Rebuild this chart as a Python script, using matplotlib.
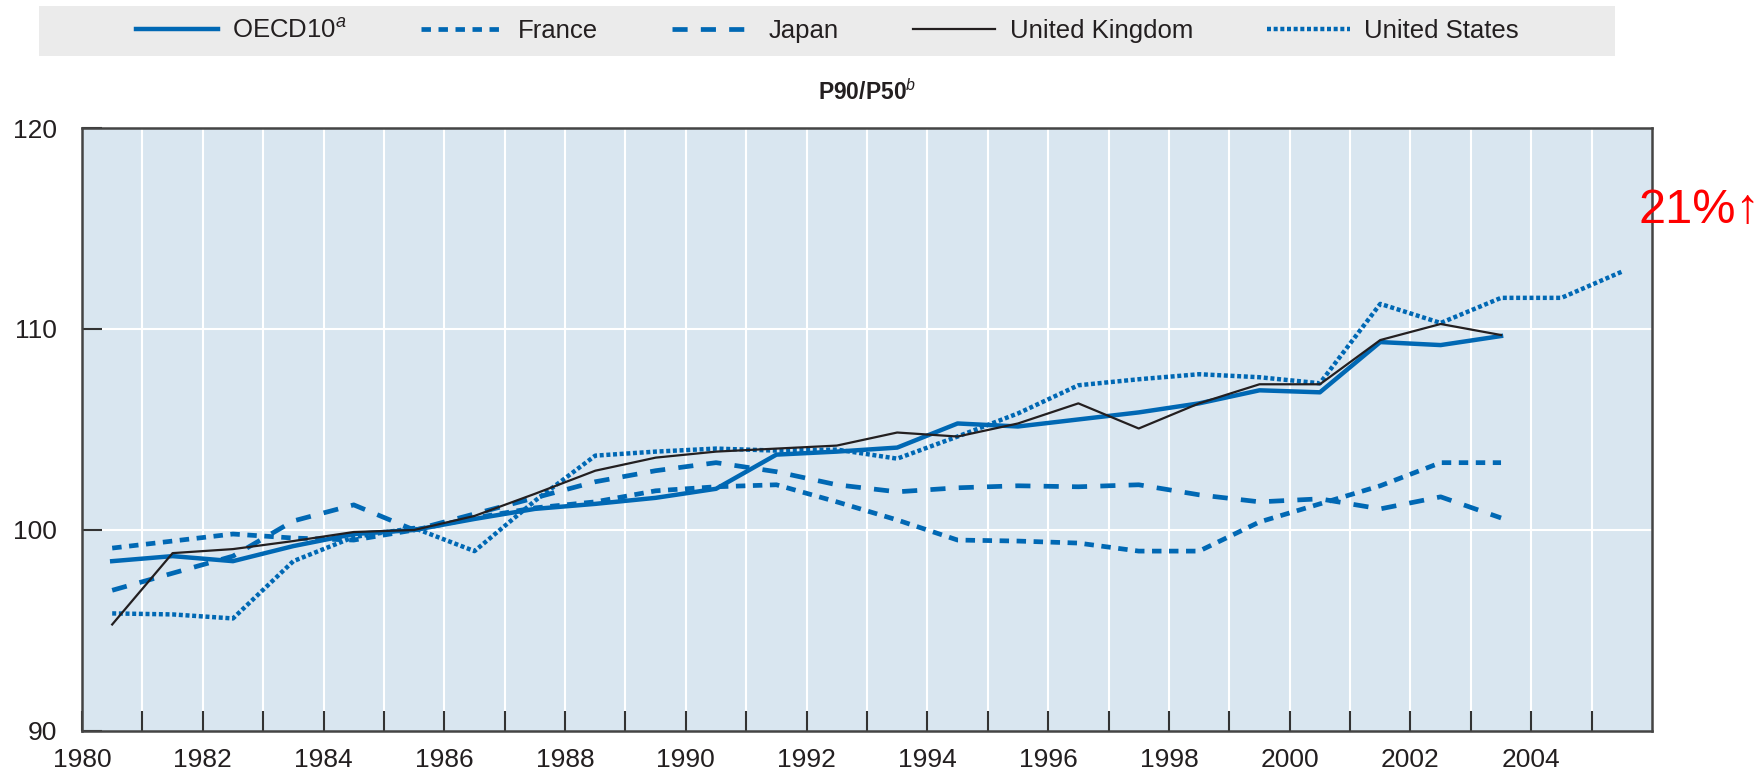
import numpy as np
import matplotlib
matplotlib.use("Agg")
import matplotlib.pyplot as plt
from matplotlib import font_manager
from matplotlib.patches import Rectangle
from matplotlib.ticker import FixedLocator

nan = np.nan

# ---------------- data ----------------
years = list(range(1980, 2006))
series_names = ["OECD10$^{a}$", "France", "Japan", "United Kingdom", "United States"]
oecd10 = [98.45, 98.7, 98.45, 99.2, 99.8, 100.0, 100.55, 101.05, 101.3, 101.6, 102.05, 103.75, 103.9,
          104.1, 105.3, 105.15, 105.5, 105.85, 106.3, 106.95, 106.85, 109.35, 109.2, 109.65, nan, nan]
france = [99.1, 99.45, 99.8, 99.6, 99.5, 100.0, 100.6, 101.1, 101.4, 101.95, 102.15, 102.25, 101.4,
          100.5, 99.5, 99.45, 99.35, 98.95, 98.95, 100.4, 101.3, 102.2, 103.35, 103.35, nan, nan]
japan = [97.0, 97.85, 98.7, 100.45, 101.25, 100.0, 100.8, 101.6, 102.4, 102.95, 103.35, 102.9, 102.25,
         101.9, 102.1, 102.2, 102.15, 102.25, 101.75, 101.4, 101.55, 101.05, 101.65, 100.6, nan, nan]
uk = [95.3, 98.85, 99.05, 99.45, 99.9, 100.0, 100.7, 101.8, 102.95, 103.6, 103.9, 104.05, 104.2,
      104.85, 104.65, 105.3, 106.3, 105.05, 106.3, 107.25, 107.25, 109.45, 110.25, 109.7, nan, nan]
us = [95.85, 95.8, 95.6, 98.45, 99.65, 100.1, 98.95, 101.45, 103.7, 103.9, 104.05, 103.95, 104.0,
      103.55, 104.65, 105.8, 107.2, 107.5, 107.75, 107.6, 107.3, 111.25, 110.3, 111.55, 111.55, 112.85]
x_labels = [str(y) for y in range(1980, 2005, 2)]
y_ticks = [90, 100, 110, 120]
title_text = "P90/P50$^{b}$"
note_text = "21%\u2191"

# ---------------- fonts ----------------
available = {f.name for f in font_manager.fontManager.ttflist}
has_narrow = "Liberation Sans Narrow" in available
base = "Liberation Sans Narrow" if has_narrow else "Liberation Sans"
k = 1.1 if has_narrow else 1.0  # narrow face can be set a bit larger
plt.rcParams["font.family"] = [base, "DejaVu Sans"]
plt.rcParams["mathtext.fontset"] = "custom"
plt.rcParams["mathtext.rm"] = base
plt.rcParams["mathtext.it"] = base + ":italic"
plt.rcParams["mathtext.bf"] = base + ":bold"

BLUE = "#0068b4"
TXT = "#231f20"
FRAME = "#444444"

W, H = 1765, 775
fig = plt.figure(figsize=(W / 100, H / 100), dpi=100)
ax = fig.add_axes([82 / W, 1 - 731 / H, (1652 - 82) / W, (731 - 128) / H])
ax.set_facecolor("#d9e6f0")

xs = np.array(years) + 0.5  # values plotted at mid-year

l_oecd, = ax.plot(xs, oecd10, color=BLUE, lw=3.2, solid_joinstyle="round", zorder=4)
l_fr, = ax.plot(xs, france, color=BLUE, lw=3.4, dashes=(2.0, 1.6), dash_capstyle="butt", zorder=3)
l_jp, = ax.plot(xs, japan, color=BLUE, lw=3.4, dashes=(3.2, 2.8), dash_capstyle="butt", zorder=3)
l_us, = ax.plot(xs, us, color=BLUE, lw=3.2, dashes=(0.9, 0.6), dash_capstyle="butt", zorder=3)
l_uk, = ax.plot(xs, uk, color=TXT, lw=1.6, zorder=5)

ax.set_xlim(1980, 2006)
ax.set_ylim(90, 120)

# gridlines
for yr in range(1981, 2006):
    ax.axvline(yr, color="white", lw=1.5, zorder=1)
for v in (100, 110):
    ax.axhline(v, color="white", lw=1.5, zorder=1)

ax.xaxis.set_major_locator(FixedLocator(list(range(1980, 2005, 2))))
ax.set_xticklabels(x_labels)
ax.xaxis.set_minor_locator(FixedLocator(list(range(1981, 2006, 2))))
ax.set_yticks(y_ticks)
ax.set_yticklabels([str(v) for v in y_ticks])

ax.tick_params(axis="x", which="both", direction="in", length=14.5, width=1.5,
               color="#333333", labelsize=19 * k, labelcolor=TXT, pad=12)
ax.tick_params(axis="y", which="both", direction="in", length=14.5, width=1.5,
               color="#333333", labelsize=19 * k, labelcolor=TXT, pad=18)
for s in ax.spines.values():
    s.set_color(FRAME)
    s.set_linewidth(1.8)
    s.set_zorder(6)

ax.set_title(title_text, fontsize=16.5 * k, fontweight="bold", color=TXT, pad=20)

ax.text(2005.77, 115.9, note_text, color="red", fontsize=35, ha="left", va="center",
        family=["Liberation Sans", "DejaVu Sans"], clip_on=False, zorder=7)

# legend band
fig.patches.append(Rectangle((39 / W, 1 - 56 / H), (1615 - 39) / W, 50 / H,
                             transform=fig.transFigure, facecolor="#ebebeb",
                             edgecolor="none", zorder=0))
leg = fig.legend([l_oecd, l_fr, l_jp, l_uk, l_us], series_names, ncol=5,
                 loc="center", bbox_to_anchor=(827 / W, 1 - 31 / H), frameon=False,
                 fontsize=18.5 * k, handlelength=3.2, handletextpad=0.55, columnspacing=2.9,
                 borderaxespad=0, borderpad=0)
for t in leg.get_texts():
    t.set_color(TXT)

fig.savefig("out.png", dpi=100)
